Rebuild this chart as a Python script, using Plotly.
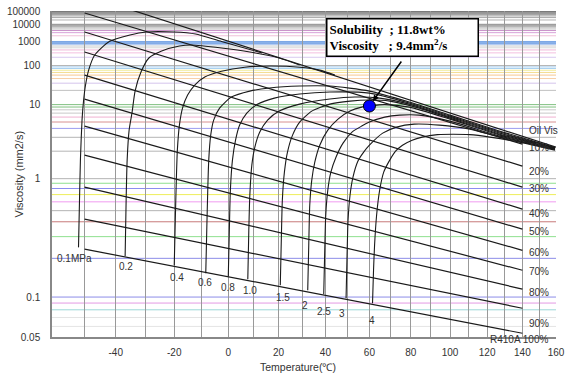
import numpy as np
import plotly.graph_objects as go

# ---------------- data ----------------
# iso-concentration lines (refrigerant wt%), viscosity at -50 C and 140 C
CONC_NAMES = ["10%", "20%", "30%", "40%", "50%", "60%", "70%", "80%", "90%", "R410A 100%"]
CONC_T = [-50, 140]
CONC_V_COLD = [68400, 3280, 325, 50.1, 12.9, 4.33, 1.80, 0.824, 0.421, 0.237]
CONC_V_HOT = [2.44, 1.351, 0.824, 0.516, 0.346, 0.232, 0.161, 0.115, 0.0822, 0.0533]

OIL_T = [-50, 160]
OIL_V = [3.64e6, 2.24]

# iso-pressure curves (MPa): temperature (C) and viscosity (mm2/s)
P_NAMES = ["0.1MPa", "0.2", "0.4", "0.6", "0.8", "1.0", "1.5", "2", "2.5", "3", "4"]
P01_T = [-51.9, -51.6, -51.3, -50.8, -50.3, -49.7, -48.7, -46.8, -42.1, -35.3, -29.8, -20, -12.3, -2.6, 13.3]
P01_V = [0.245, 0.6, 1.6, 5.35, 12.3, 27, 72, 244, 1000, 2200, 3270, 3270, 2500, 1000, 298]
P02_T = [-36.9, -36.57, -36.23, -35.57, -34.57, -33.57, -31.57, -28.87, -24.43, -18.15, -13.7, -2.59, 8.4, 20.3, 28.85]
P02_V = [0.208, 0.621, 1.575, 3.77, 7.29, 19.2, 61.6, 187, 359, 602, 671, 486, 325, 187, 104]
P04_T = [-20, -19.63, -19.26, -18.89, -18.15, -17.04, -15.19, -12.59, -8.89, -2.59, 6.4, 16.32, 28.85, 37.52, 44.18]
P04_V = [0.176, 0.413, 0.966, 2.06, 4.48, 8.6, 15.7, 26.9, 43.9, 65.1, 88, 96, 88, 71, 50]
P06_T = [-8.52, -8.15, -7.78, -7.41, -6.67, -5.56, -3.33, 1.2, 8.4, 16.32, 28.85, 41.95, 60, 79.19, 100, 127.18, 159.4]
P06_V = [0.1525, 0.339, 0.771, 1.575, 3.21, 5.35, 8.6, 14.2, 19.2, 22.7, 25.4, 25.4, 19.2, 11.2, 6.47, 3.65, 2.21]
P08_T = [0, 0.4, 0.8, 1.6, 2.8, 4.4, 7.2, 11.58, 18.3, 28.85, 41.95, 60, 79.19, 100, 127.18, 159.4]
P08_V = [0.1445, 0.339, 0.771, 1.575, 2.75, 4.48, 7.0, 10.23, 13.5, 16.5, 18.3, 17.3, 10.7, 6.22, 3.54, 2.19]
P10_T = [7.6, 8.0, 8.4, 9.2, 10.4, 12.37, 15.53, 20.3, 28.85, 41.95, 53.27, 64.83, 79.19, 100, 127.18, 159.4]
P10_V = [0.137, 0.339, 0.691, 1.385, 2.24, 3.54, 5.35, 7.59, 10.23, 12.9, 14.2, 13.5, 10.23, 5.99, 3.42, 2.18]
P15_T = [20.73, 21.15, 21.58, 22.44, 23.72, 25.85, 28.85, 34.04, 41.95, 51.03, 60, 69.66, 84.15, 100, 127.18, 159.4]
P15_V = [0.123, 0.280, 0.621, 1.166, 1.95, 3.21, 4.98, 7.59, 10.23, 11.7, 12.3, 11.7, 8.6, 5.77, 3.31, 2.16]
P20_T = [32.3, 32.74, 33.17, 34.04, 35.35, 37.52, 41.05, 45.59, 51.03, 56.41, 60, 67.25, 79.19, 100, 127.18, 159.4]
P20_V = [0.1127, 0.255, 0.559, 0.966, 1.495, 2.37, 3.77, 5.56, 7.59, 8.97, 9.4, 10.0, 8.97, 5.56, 3.21, 2.14]
P25_T = [39.26, 39.7, 40.14, 41.05, 42.41, 44.68, 47.86, 51.93, 56.41, 60, 67.25, 74.43, 84.15, 100, 127.18, 159.4]
P25_V = [0.105, 0.232, 0.456, 0.771, 1.166, 1.70, 2.516, 3.54, 4.33, 4.98, 5.99, 6.47, 6.47, 5.16, 3.11, 2.12]
P30_T = [49.23, 49.68, 50.13, 51.03, 52.38, 54.62, 57.31, 60, 66.28, 72.95, 81.65, 94.5, 110.55, 127.18, 159.4]
P30_V = [0.098, 0.2117, 0.413, 0.691, 1.036, 1.53, 1.95, 2.37, 3.42, 4.18, 4.64, 4.48, 3.90, 3.02, 2.10]
P40_T = [61.45, 61.93, 62.42, 63.38, 64.83, 66.76, 69.66, 72.48, 75.86, 80.65, 85.65, 93.44, 101.6, 110.55, 121.53, 138.47, 159.4]
P40_V = [0.0897, 0.161, 0.255, 0.456, 0.771, 1.166, 1.575, 2.0, 2.37, 2.75, 3.02, 3.26, 3.31, 3.26, 3.02, 2.59, 2.06]
P_CURVES = [(P01_T, P01_V), (P02_T, P02_V), (P04_T, P04_V), (P06_T, P06_V), (P08_T, P08_V),
            (P10_T, P10_V), (P15_T, P15_V), (P20_T, P20_V), (P25_T, P25_V), (P30_T, P30_V),
            (P40_T, P40_V)]

# highlighted point
PT_T, PT_V = 60, 9.4
PT_TEXT = ("<b>Solubility\u00a0\u00a0; 11.8wt%</b><br>"
           "<b>Viscosity\u00a0\u00a0\u00a0; 9.4mm<sup>2</sup>/s</b>")

# axis ticks
X_GRID_T = list(range(-50, 161, 10))
X_LABEL_T = list(range(-40, 161, 20))
Y_TICKS = [0.05, 0.1, 1, 10, 100, 1000, 10000, 100000]
Y_TICK_TEXT = ["0.05", "0.1", "1", "10", "100", "1000", "10000", "100000"]

# horizontal grid values and colours
GRID_V = [0.06, 0.07, 0.08, 0.09, 0.1,
          0.2, 0.3, 0.4, 0.5, 0.6, 0.7, 0.8, 0.9, 1,
          2, 3, 4, 5, 6, 7, 8, 9, 10,
          20, 30, 40, 50, 60, 70, 80, 90, 100,
          200, 300, 400, 500, 600, 700, 800, 900, 1000,
          2000, 3000, 4000, 5000, 6000, 7000, 8000, 9000, 10000,
          20000, 30000, 40000, 50000, 60000, 70000, 80000, 90000, 100000]
GRID_C = ["#e4e4e4", "#e4e4e4", "#9cd8d8", "#e49ae4", "#8c8ce8",
          "#8c8ce8", "#8fe08f", "#c87a7a", "#b4b4b4", "#f09cf0", "#eeee5a", "#8c8cf0", "#8fe08f", "#b4b4b4",
          "#b4b4b4", "#b4b4b4", "#9c9cf0", "#d89090", "#f0b0d0", "#c8c8c8", "#c8c8c8", "#80c080", "#80c080",
          "#c0c0c0", "#d4c4ec", "#f8d0a8", "#f8c890", "#f4dc90", "#f0ec9c", "#a8d0f0", "#a8d0f0", "#b4b4b4",
          "#d8c8f0", "#f4c0e0", "#f0b8d8", "#d8d8d8", "#d0d0d0", "#a8c4f0", "#7aa6e6", "#7aa6e6", "#7aa6e6",
          "#f0c0d8", "#d8a0d8", "#c890c8", "#c0c0c0", "#c8c8c8", "#b0b0b0", "#a0a0a0", "#a0a0a0", "#909090",
          "#b0b0b0", "#a8a8a8", "#a0a0a0", "#989898", "#909090", "#888888", "#888888", "#808080", "#707070"]

# label anchors (T, v)
CONC_LABEL_T = [142.5] * 9
CONC_LABEL_V = [2.24, 1.194, 0.806, 0.475, 0.333, 0.224, 0.158, 0.109, 0.0633]
OIL_LABEL = ("Oil Vis", 142.5, 3.78)
P_LABEL_T = [-53.0, -36.6, -19.1, -8.7, 0, 8.4, 22, 31, 39.5, 47.5, 61.2]
P_LABEL_V = [0.199, 0.173, 0.141, 0.129, 0.119, 0.1127, 0.099, 0.0865, 0.0779, 0.0749, 0.0667]


def fy(v):
    return np.log10(np.log10(np.asarray(v, dtype=float) + 1.0))


def fx(t):
    return np.asarray(t, dtype=float) + 273.15


LINE_C = "#1a1a1a"
fig = go.Figure()

# iso concentration lines
for vc, vh in zip(CONC_V_COLD, CONC_V_HOT):
    fig.add_trace(go.Scatter(x=fx(CONC_T), y=fy([vc, vh]), mode="lines",
                             line=dict(color=LINE_C, width=1.2), hoverinfo="skip", showlegend=False))
fig.add_trace(go.Scatter(x=fx(OIL_T), y=fy(OIL_V), mode="lines",
                         line=dict(color=LINE_C, width=1.2), hoverinfo="skip", showlegend=False))

# iso pressure curves
for t, v in P_CURVES:
    fig.add_trace(go.Scatter(x=fx(t), y=fy(v), mode="lines",
                             line=dict(color=LINE_C, width=1.1, shape="spline", smoothing=0.6),
                             hoverinfo="skip", showlegend=False))

# highlighted point
fig.add_trace(go.Scatter(x=fx([PT_T]), y=fy([PT_V]), mode="markers",
                         marker=dict(size=12, color="#0000ff", line=dict(color="#000000", width=1)),
                         hoverinfo="skip", showlegend=False))

shapes = []
for v, c in zip(GRID_V, GRID_C):
    yy = float(fy(v))
    shapes.append(dict(type="line", xref="paper", x0=0, x1=1, yref="y", y0=yy, y1=yy,
                       line=dict(color=c, width=1), layer="below"))
fig.update_layout(shapes=shapes)

annos = []
lab_font = dict(family="Liberation Sans, Arial", size=10, color="#333333")
for name, t, v in zip(CONC_NAMES[:-1], CONC_LABEL_T, CONC_LABEL_V):
    annos.append(dict(x=float(np.log10(fx(t))), y=float(fy(v)), xref="x", yref="y", text=name,
                      showarrow=False, xanchor="left", yanchor="middle", font=lab_font))
annos.append(dict(x=0.988, y=-0.008, xref="paper", yref="paper", text=CONC_NAMES[-1],
                  showarrow=False, xanchor="right", yanchor="middle", font=lab_font))
annos.append(dict(x=float(np.log10(fx(OIL_LABEL[1]))), y=float(fy(OIL_LABEL[2])), xref="x", yref="y",
                  text=OIL_LABEL[0], showarrow=False, xanchor="left", yanchor="middle", font=lab_font))
for name, t, v in zip(P_NAMES, P_LABEL_T, P_LABEL_V):
    annos.append(dict(x=float(np.log10(fx(t))), y=float(fy(v)), xref="x", yref="y", text=name,
                      showarrow=False, xanchor="center", yanchor="middle", font=lab_font))

# arrow to point
annos.append(dict(x=float(np.log10(fx(PT_T))), y=float(fy(PT_V)), xref="x", yref="y", text="",
                  showarrow=True, arrowhead=2, arrowsize=0.8, arrowwidth=1.5, arrowcolor="#000000",
                  ax=33, ay=-46, standoff=6))
# text box
annos.append(dict(x=0.5437, y=0.9785, xref="paper", yref="paper", text=PT_TEXT, showarrow=False,
                  xanchor="left", yanchor="top", align="left", width=146,
                  font=dict(family="Liberation Serif, Times New Roman", size=13, color="#000000"),
                  bgcolor="#ffffff", bordercolor="#000000", borderwidth=1.5, borderpad=2))
# axis titles
annos.append(dict(x=0.488, y=-0.092, xref="paper", yref="paper", text="Temperature(℃)",
                  showarrow=False, xanchor="center", yanchor="middle",
                  font=dict(family="Liberation Sans, Arial", size=10.5, color="#333333")))
annos.append(dict(x=-0.0655, y=0.5015, xref="paper", yref="paper", text="Viscosity (mm2/s)",
                  showarrow=False, xanchor="center", yanchor="middle", textangle=-90,
                  font=dict(family="Liberation Sans, Arial", size=11, color="#333333")))
fig.update_layout(annotations=annos)

fig.update_layout(
    width=566, height=374,
    margin=dict(l=52, r=10, t=11, b=37),
    paper_bgcolor="#ffffff", plot_bgcolor="#ffffff",
    font=dict(family="Liberation Sans, Arial", size=10, color="#333333"),
    xaxis=dict(type="log", range=[float(np.log10(fx(-60))), float(np.log10(fx(160)))],
               tickmode="array", tickvals=list(fx(X_GRID_T)),
               ticktext=[str(t) if t in X_LABEL_T else "" for t in X_GRID_T],
               showgrid=True, gridcolor="#999999", gridwidth=1.2, zeroline=False, automargin=False,
               showline=True, linecolor="#888888", linewidth=1.5, ticks="", ticklabelstandoff=5),
    yaxis=dict(range=[float(fy(0.05)), float(fy(100000))], tickmode="array",
               tickvals=list(fy(Y_TICKS)), ticktext=Y_TICK_TEXT, showgrid=False, zeroline=False,
               automargin=False,
               showline=True, linecolor="#888888", linewidth=1.5, ticks="", ticklabelstandoff=8),
)

fig.write_html("out.html")
